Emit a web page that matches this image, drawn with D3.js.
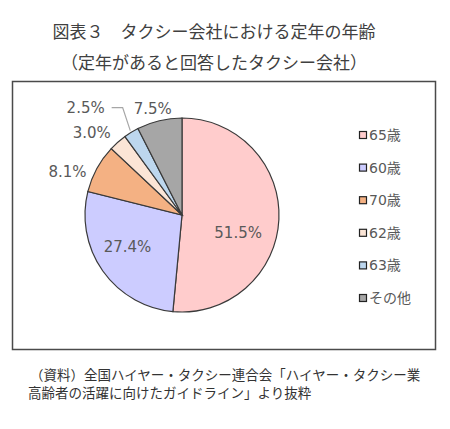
<!DOCTYPE html>
<html>
<head>
<meta charset="utf-8">
<script src="https://cdn.jsdelivr.net/npm/d3@7"></script>
<style>
  html, body { margin: 0; padding: 0; background: #fff; }
  svg { display: block; }
</style>
</head>
<body>
<svg id="canvas"></svg>
<script>
// Chart data
const categories = ["65歳", "60歳", "70歳", "62歳", "63歳", "その他"];
const values = [51.5, 27.4, 8.1, 3.0, 2.5, 7.5];
const sliceColors = ["#FFCCCC", "#CCCCFF", "#F4B183", "#FBE5D6", "#BDD7EE", "#A6A6A6"];
const titleLines = ["図表３　タクシー会社における定年の年齢", "（定年があると回答したタクシー会社）"];
const sourceLines = ["（資料）全国ハイヤー・タクシー連合会「ハイヤー・タクシー業", "高齢者の活躍に向けたガイドライン」より抜粋"];

// small hand adjustments so labels sit where Excel put them
const labelNudge = [[-2, 15], [-7, -2], [-8, 15], [-10, 9], [-33, -4], [-1, 11]];

const width = 450;
const height = 429;
const jp = "'Noto Sans CJK JP', sans-serif";
const num = "'DejaVu Sans', 'Noto Sans CJK JP', sans-serif";

const svg = d3.select("#canvas")
              .attr("width", width)
              .attr("height", height);

// Title
svg.selectAll("text.title")
   .data(titleLines)
   .enter()
   .append("text")
   .attr("class", "title")
   .attr("x", 214)
   .attr("y", (d, i) => 38 + i * 31)
   .attr("text-anchor", "middle")
   .attr("font-family", jp)
   .attr("font-size", 17)
   .attr("fill", "#404040")
   .text(d => d);

// Chart frame
svg.append("rect")
   .attr("x", 12.5)
   .attr("y", 81.5)
   .attr("width", 423)
   .attr("height", 268)
   .attr("fill", "#fff")
   .attr("stroke", "#4a4a4a")
   .attr("stroke-width", 1.5);

// Pie
const cx = 182, cy = 215, r = 97;
const pie = d3.pie().sort(null).value(d => d);
const arcs = pie(values);
const arc = d3.arc().innerRadius(0).outerRadius(r);

const g = svg.append("g").attr("transform", `translate(${cx},${cy})`);

g.selectAll("path")
 .data(arcs)
 .enter()
 .append("path")
 .attr("d", arc)
 .attr("fill", (d, i) => sliceColors[i])
 .attr("stroke", "#3a3a3a")
 .attr("stroke-width", 1.2);

// Labels: big slices inside, small ones outside
const inArc = d3.arc().innerRadius(r * 0.6).outerRadius(r * 0.6);
const outArc = d3.arc().innerRadius(r * 1.25).outerRadius(r * 1.25);
const labelPos = arcs.map((d, i) => {
   const c = (d.data > 20 ? inArc : outArc).centroid(d);
   return [c[0] + labelNudge[i][0], c[1] + labelNudge[i][1]];
});

g.selectAll("text.lbl")
 .data(arcs)
 .enter()
 .append("text")
 .attr("class", "lbl")
 .attr("x", (d, i) => labelPos[i][0])
 .attr("y", (d, i) => labelPos[i][1])
 .attr("dy", "0.36em")
 .attr("text-anchor", "middle")
 .attr("font-family", num)
 .attr("font-size", 15)
 .attr("fill", "#595959")
 .text(d => d3.format(".1f")(d.data) + "%");

// leader line for the 63歳 slice
const k = 4;
const mid = (arcs[k].startAngle + arcs[k].endAngle) / 2;
const edge = [Math.sin(mid) * (r + 2), -Math.cos(mid) * (r + 2)];
const lp = labelPos[k];
g.append("polyline")
 .attr("points", [edge, [lp[0] + 37, lp[1]], [lp[0] + 26, lp[1]]].map(p => p.join(",")).join(" "))
 .attr("fill", "none")
 .attr("stroke", "#a6a6a6")
 .attr("stroke-width", 1.2);

// Legend
const legendY = d3.scalePoint()
                  .domain(categories)
                  .range([135, 298]);

const legend = svg.selectAll("g.legend")
                  .data(categories)
                  .enter()
                  .append("g")
                  .attr("class", "legend")
                  .attr("transform", d => `translate(359, ${legendY(d)})`);

legend.append("rect")
      .attr("x", 0.5)
      .attr("y", -3.5)
      .attr("width", 7)
      .attr("height", 7)
      .attr("fill", (d, i) => sliceColors[i])
      .attr("stroke", "#222")
      .attr("stroke-width", 1.2);

legend.append("text")
      .attr("x", 10)
      .attr("y", 0)
      .attr("dy", "0.36em")
      .attr("font-family", num)
      .attr("font-size", 14)
      .attr("fill", "#595959")
      .text(d => d);

// Source note
svg.selectAll("text.src")
   .data(sourceLines)
   .enter()
   .append("text")
   .attr("class", "src")
   .attr("x", (d, i) => i === 0 ? 30 : 28)
   .attr("y", (d, i) => 380 + i * 18)
   .attr("font-family", jp)
   .attr("font-size", 13.5)
   .attr("fill", "#333")
   .text(d => d);
</script>
</body>
</html>
